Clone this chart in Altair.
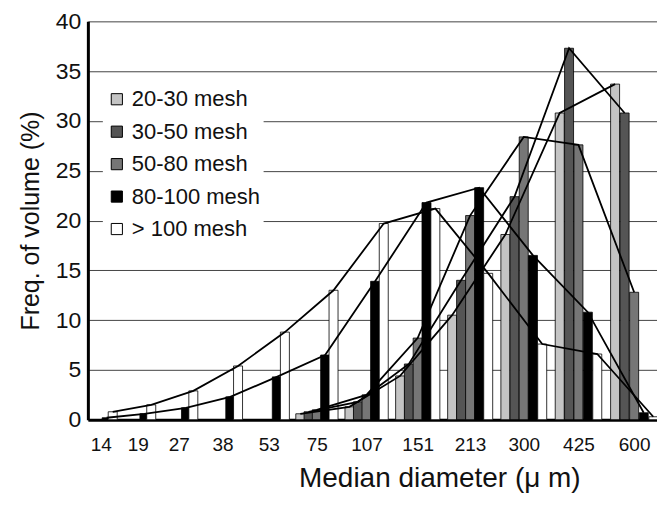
import altair as alt
import pandas as pd

# ---- data ----
diameters = ["14", "19", "27", "38", "53", "75", "107", "151", "213", "300", "425", "600"]
series = ["20-30 mesh", "30-50 mesh", "50-80 mesh", "80-100 mesh", "> 100 mesh"]

mesh_20_30 = [None, None, None, None, None, 0.6, 1.3, 4.4, 10.5, 18.6, 30.8, 33.7]
mesh_30_50 = [None, None, None, None, None, 0.8, 1.8, 5.6, 14.0, 22.4, 37.3, 30.8]
mesh_50_80 = [None, None, None, None, None, 1.0, 2.5, 8.2, 20.5, 28.4, 27.6, 12.8]
mesh_80_100 = [0.2, 0.6, 1.2, 2.3, 4.3, 6.5, 13.9, 21.8, 23.3, 16.5, 10.8, 0.7]
mesh_gt_100 = [0.8, 1.5, 2.9, 5.4, 8.8, 13.0, 19.7, 21.2, 14.7, 7.6, 6.6, 0.3]

all_values = [mesh_20_30, mesh_30_50, mesh_50_80, mesh_80_100, mesh_gt_100]
fills = ["#c4c4c4", "#555555", "#767676", "#000000", "#ffffff"]

rows = []
for ci, d in enumerate(diameters):
    for si, (name, vals) in enumerate(zip(series, all_values)):
        v = vals[ci]
        if v is not None:
            rows.append({"diameter": d, "cat": ci + 1, "series": name, "s": si, "value": v})
df = pd.DataFrame(rows)

label_array = "[" + ",".join("'%s'" % d for d in diameters) + "]"

FONT = "Liberation Sans"

x_enc = alt.X(
    "pos:Q",
    scale=alt.Scale(type="pow", exponent=1.2, domain=[0.7646, 12.317], nice=False, zero=False),
    axis=alt.Axis(
        values=list(range(1, len(diameters) + 1)),
        labelExpr=label_array + "[datum.value - 1]",
        grid=False, ticks=False, domainWidth=3, domainColor="black",
        labelFontSize=19, labelFont=FONT, labelColor="#111", labelPadding=16,
        title="Median diameter (μ m)", titleFontSize=28, titleFont=FONT,
        titleFontWeight="normal", titleColor="#111", titlePadding=10,
        titleX=352, titleAnchor="middle",
    ),
)
y_enc = alt.Y(
    "value:Q",
    scale=alt.Scale(domain=[0, 40], nice=False),
    axis=alt.Axis(
        values=list(range(0, 41, 5)), ticks=False, domainWidth=3, domainColor="black",
        gridColor="#444", gridWidth=1, labelFontSize=23, labelFont=FONT, labelColor="#111",
        labelPadding=7, title="Freq. of volume (%)", titleFontSize=25, titleFont=FONT,
        titleFontWeight="normal", titleColor="#111", titlePadding=12,
    ),
)

base = alt.Chart(df).transform_calculate(pos="datum.cat + (datum.s - 2) * 0.17")

bars = base.mark_bar(size=9, stroke="black", strokeWidth=0.8).encode(
    x=x_enc,
    y=y_enc,
    color=alt.Color(
        "series:N",
        scale=alt.Scale(domain=series, range=fills),
        sort=series,
        legend=alt.Legend(
            orient="none", legendX=15, legendY=64, title=None,
            symbolType="square", symbolSize=125, symbolStrokeColor="black",
            symbolStrokeWidth=1, symbolOpacity=1,
            labelFontSize=22, labelFont=FONT, labelColor="#111",
            rowPadding=10.5, fillColor="white", padding=3, labelOffset=4,
        ),
    ),
)

lines = base.mark_line(color="black", strokeWidth=1.8).encode(
    x="pos:Q",
    y="value:Q",
    detail="series:N",
    order="pos:Q",
)

chart = (
    alt.layer(bars, lines)
    .properties(
        width=570, height=399,
        autosize=alt.AutoSizeParams(type="none"),
        padding={"left": 80, "top": 13, "right": 0, "bottom": 80},
    )
    .configure_view(stroke=None)
)

chart.save("out.html", embed_options={"renderer": "svg", "actions": False})
